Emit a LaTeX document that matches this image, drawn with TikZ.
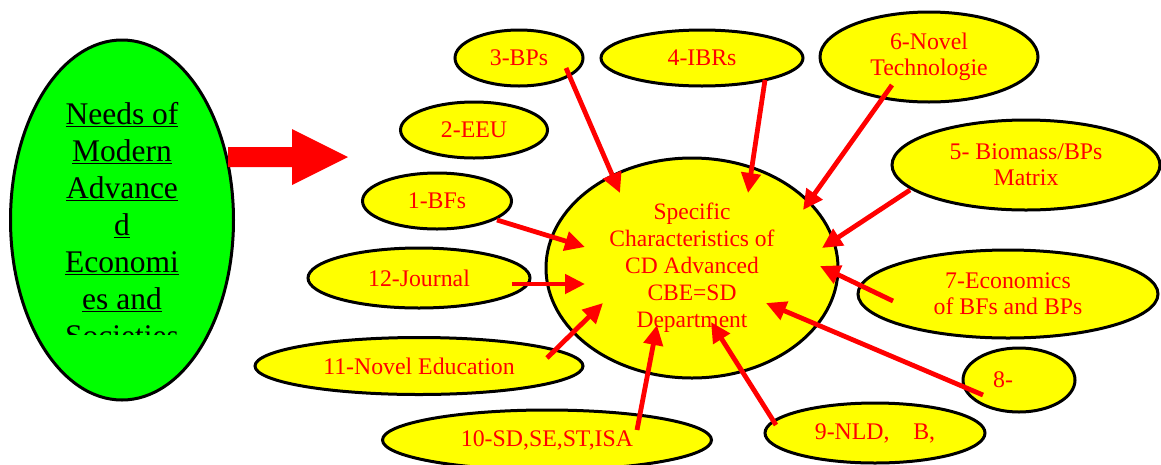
\documentclass[tikz,border=0pt]{standalone}
\usepackage{fontspec}
\setmainfont{Liberation Serif}
\usetikzlibrary{shapes.geometric,arrows.meta}
\definecolor{bubyellow}{RGB}{255,255,0}
\definecolor{bubgreen}{RGB}{0,255,0}
\definecolor{arrred}{RGB}{255,0,0}
\begin{document}
\begin{tikzpicture}[x=1pt,y=-1pt,
  bub/.style={ellipse,draw=black,line width=3pt,fill=bubyellow,inner sep=0pt,
    text=arrred,font=\fontsize{23.8}{26}\selectfont,align=center},
  con/.style={draw=arrred,line width=4.8pt,-{Triangle[length=20pt,width=19pt]}},
  greentext/.style={font=\fontsize{31.5}{37}\selectfont,align=center,text=black,inner sep=0pt},
]
\useasboundingbox (0,0) rectangle (1161,464);

% left green ellipse
\node[ellipse,draw=black,line width=3pt,fill=bubgreen,minimum width=223pt,minimum height=360pt,inner sep=0pt] (needs) at (122,220) {};
\begin{scope}
  \clip (0,0) rectangle (1161,334);
  \node[greentext] (needstext) at (122,226) {\underline{Needs of}\\\underline{Modern}\\\underline{Advance}\\\underline{d}\\\underline{Economi}\\\underline{es and}\\\underline{Societies}};
\end{scope}

% big block arrow
\fill[arrred] (228,147) -- (292,147) -- (292,129) -- (348,157) -- (292,185) -- (292,167) -- (228,167) -- cycle;

% center ellipse
\node[bub,minimum width=292pt,minimum height=220pt,font=\fontsize{23.5}{27}\selectfont] (c) at (692,268)
  {Specific\\Characteristics of\\CD Advanced\\CBE=SD\\Department};

% satellites
\node[bub,minimum width=128pt,minimum height=56pt] (n3) at (519,58) {3-BPs};
\node[bub,minimum width=202pt,minimum height=56pt] (n4) at (702,58) {4-IBRs};
\node[bub,minimum width=218pt,minimum height=90pt] (n6) at (929,57) {6-Novel\\Technologie};
\node[bub,minimum width=268pt,minimum height=90pt] (n5) at (1026,165) {5- Biomass/BPs\\Matrix};
\node[bub,minimum width=147pt,minimum height=56pt] (n2) at (474,130) {2-EEU};
\node[bub,minimum width=149pt,minimum height=56pt] (n1) at (437,201) {1-BFs};
\node[bub,minimum width=222pt,minimum height=60pt] (n12) at (419,278) {12-Journal};
\node[bub,minimum width=328pt,minimum height=57pt] (n11) at (419,366) {11-Novel Education};
\node[bub,minimum width=329pt,minimum height=60pt] (n10) at (547,440) {10-SD,SE,ST,ISA};
\node[bub,minimum width=220pt,minimum height=60pt] (n9) at (875,433) {9-NLD,\quad B,};
\node[bub,minimum width=112pt,minimum height=64pt] (n8) at (1019,380) {};
\node[text=arrred,font=\fontsize{23.8}{26}\selectfont,inner sep=0pt] (n8t) at (1003,380) {8-};
\node[bub,minimum width=300pt,minimum height=88pt] (n7) at (1008,294) {7-Economics\\of BFs and BPs};

% connector end points
\coordinate (s3) at (566,68);   \coordinate (t3) at (620,193);
\coordinate (s4) at (765,80);   \coordinate (t4) at (748,193);
\coordinate (s6) at (892,85);   \coordinate (t6) at (803,210);
\coordinate (s5) at (910,190);  \coordinate (t5) at (822,248);
\coordinate (s1) at (497,220);  \coordinate (t1) at (585,247);
\coordinate (s12) at (512,284); \coordinate (t12) at (585,284);
\coordinate (s11) at (547,358); \coordinate (t11) at (603,303);
\coordinate (s10) at (637,430); \coordinate (t10) at (657,325);
\coordinate (s9) at (776,425);  \coordinate (t9) at (711,322);
\coordinate (s8) at (983,395);  \coordinate (t8) at (766,303);
\coordinate (s7) at (893,301);  \coordinate (t7) at (820,266);

\foreach \k in {3,4,6,5,1,12,11,10,9,8,7}{
  \draw[con] (s\k) -- (t\k);
}
\end{tikzpicture}
\end{document}
